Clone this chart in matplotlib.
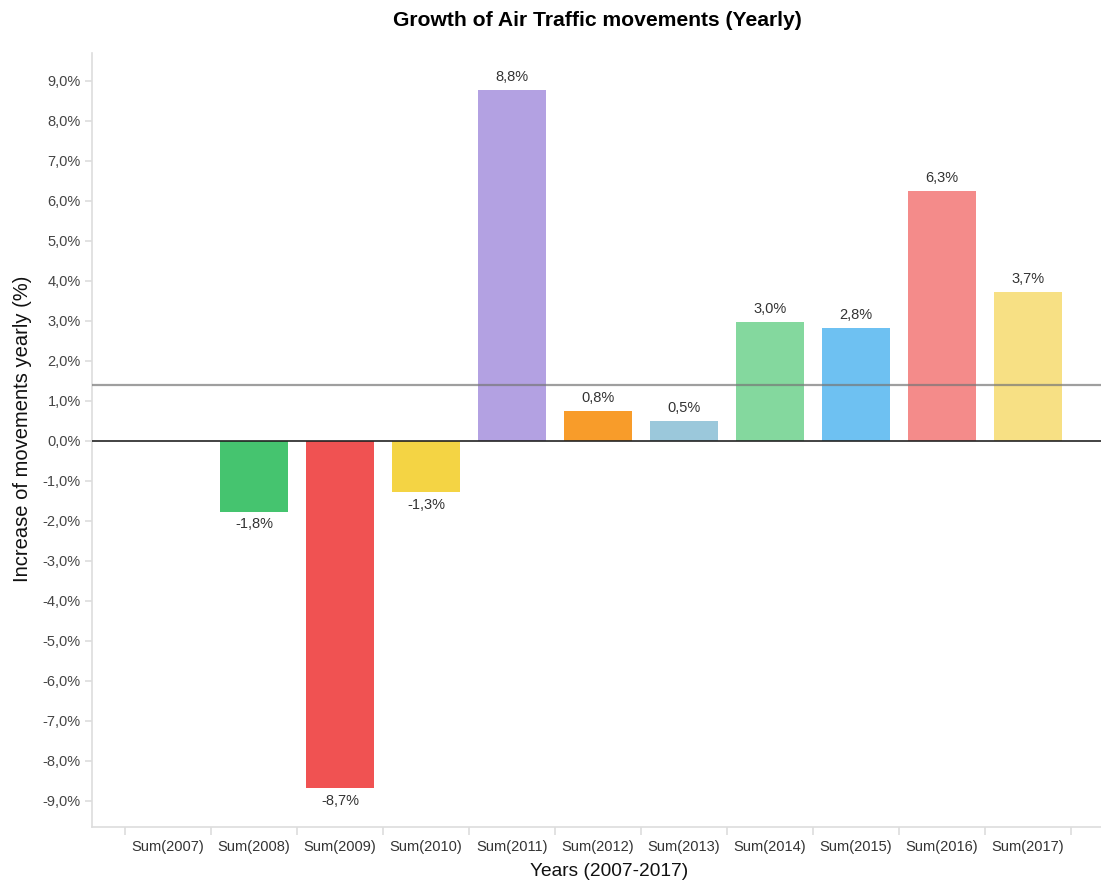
import matplotlib.pyplot as plt
import numpy as np

plt.rcParams['font.family'] = ['Liberation Sans', 'DejaVu Sans']

# Data (yearly growth in %, 2007 has no value)
years = ['2007', '2008', '2009', '2010', '2011', '2012', '2013', '2014', '2015', '2016', '2017']
growth = [0.0, -1.77, -8.68, -1.28, 8.78, 0.75, 0.51, 2.98, 2.83, 6.26, 3.73]
colors = ['#ffffff', '#45c46f', '#f05252', '#f4d444', '#b3a1e2', '#f89c2a',
          '#9bc8db', '#84d89e', '#6ec1f2', '#f48b8a', '#f7e084']

tick_labels = [f"Sum({y})" for y in years]
avg_growth = np.mean(growth[1:])

fig = plt.figure(figsize=(11.01, 8.81), dpi=100)
ax = fig.add_axes([92 / 1101, 54 / 881, 1 - 92 / 1101, 1 - 54 / 881 - 53 / 881])

x = np.arange(len(years))
ax.bar(x, growth, width=0.79, color=colors, edgecolor='none', zorder=2)

# zero line and average line
ax.axhline(0, color='#222222', linewidth=1.2, zorder=3)
ax.axhline(avg_growth, color='#777777', linewidth=1.6, alpha=0.7, zorder=4)

# value labels
for xi, v in zip(x[1:], growth[1:]):
    txt = f"{v:.1f}%".replace('.', ',')
    if v >= 0:
        ax.annotate(txt, (xi, v), xytext=(0, 4), textcoords='offset points',
                    ha='center', va='bottom', fontsize=10.5, color='#333333')
    else:
        ax.annotate(txt, (xi, v), xytext=(0, -4), textcoords='offset points',
                    ha='center', va='top', fontsize=10.5, color='#333333')

ax.set_xlim(-0.884, 10.85)
ax.set_ylim(-9.65, 9.7)

yt = np.arange(-9, 10, 1)
ax.set_yticks(yt)
ax.set_yticklabels([f"{t:.1f}%".replace('.', ',') for t in yt])
ax.set_xticks(x)
ax.set_xticklabels(tick_labels)
ax.set_xticks(np.arange(-0.5, 11, 1), minor=True)
ax.tick_params(axis='x', which='major', length=0, pad=9, labelsize=10.5, labelcolor='#333333')
ax.tick_params(axis='x', which='minor', length=6, color='#dddddd', width=1.2)
ax.tick_params(axis='y', length=5, color='#dddddd', width=1.2, pad=3, labelsize=10.5,
               labelcolor='#444444')

for s in ['top', 'right']:
    ax.spines[s].set_visible(False)
for s in ['left', 'bottom']:
    ax.spines[s].set_color('#dddddd')
    ax.spines[s].set_linewidth(1.2)

ax.set_ylabel('Increase of movements yearly (%)', fontsize=14.5, color='#111111')
ax.yaxis.set_label_coords(-0.0594, 0.514)
ax.set_xlabel('Years (2007-2017)', fontsize=13.8, color='#111111')
ax.xaxis.set_label_coords(0.513, -0.046)
fig.text(597 / 1101, 1 - 20 / 881, 'Growth of Air Traffic movements (Yearly)', ha='center',
         va='center', fontsize=15.2, fontweight='bold', color='#000000')

fig.savefig('out.png', dpi=100)
